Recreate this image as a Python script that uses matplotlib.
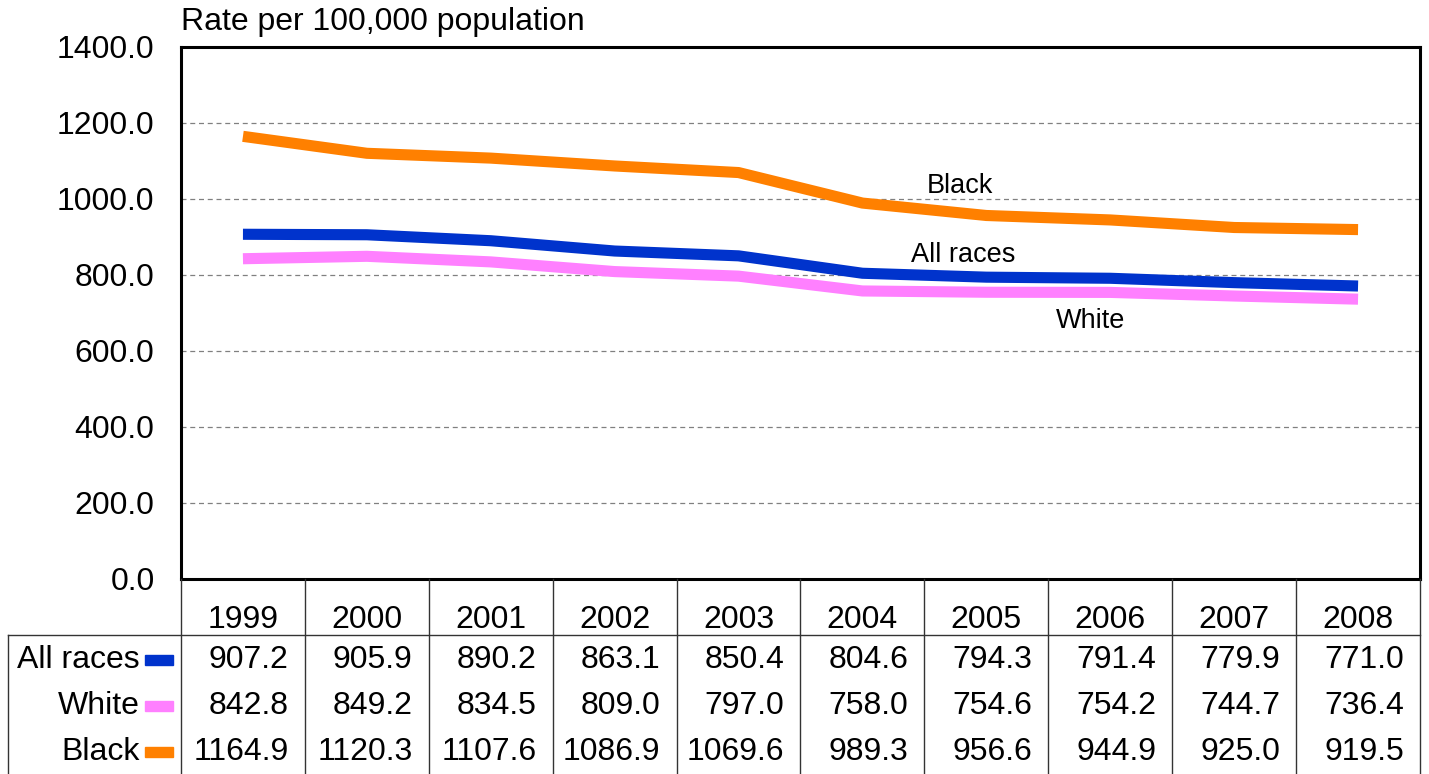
import matplotlib.pyplot as plt
import matplotlib.transforms as mtransforms
from matplotlib.lines import Line2D
from matplotlib.patches import Rectangle

plt.rcParams['font.family'] = ['Liberation Sans', 'DejaVu Sans']

# -----------------------
# Data
# -----------------------

years = ["1999", "2000", "2001", "2002", "2003", "2004", "2005", "2006", "2007", "2008"]
all_races = [907.2, 905.9, 890.2, 863.1, 850.4, 804.6, 794.3, 791.4, 779.9, 771.0]
white = [842.8, 849.2, 834.5, 809.0, 797.0, 758.0, 754.6, 754.2, 744.7, 736.4]
black = [1164.9, 1120.3, 1107.6, 1086.9, 1069.6, 989.3, 956.6, 944.9, 925.0, 919.5]

series_names = ["All races", "White", "Black"]
series_values = [all_races, white, black]
series_colors = ["#0033CC", "#FF80FF", "#FF8000"]

# -----------------------
# Figure
# -----------------------

W, H = 1429, 774
fs = 23
fig = plt.figure(figsize=(W / 100, H / 100), dpi=100)

ax = fig.add_axes([181 / W, 1 - 579 / H, (1420 - 181) / W, (579 - 47) / H])

x = list(range(len(years)))
for vals, col in zip(series_values, series_colors):
    ax.plot(x, vals, color=col, linewidth=8, solid_capstyle="butt", zorder=3)

ax.set_xlim(-0.5, len(years) - 0.5)
ax.set_ylim(0, 1400)
ax.set_yticks(range(0, 1401, 200))
ax.set_yticklabels([f"{v:.1f}" for v in range(0, 1401, 200)], fontsize=fs)
ax.set_xticks([])
ax.tick_params(axis="y", length=0, pad=19)
for s in ax.spines.values():
    s.set_linewidth(2.2)
for v in range(200, 1400, 200):
    ax.axhline(v, color="#808080", linestyle=(0, (4, 3)), linewidth=0.9, zorder=1)

fig.text(181 / W, 1 - 30 / H, "Rate per 100,000 population",
         fontsize=fs, ha="left", va="baseline")

# series labels inside plot
ax.text(5.79, 1016, "Black", fontsize=19.5, ha="center", va="baseline")
ax.text(5.81, 834, "All races", fontsize=19.5, ha="center", va="baseline")
ax.text(6.84, 660, "White", fontsize=19.5, ha="center", va="baseline")

# -----------------------
# Data table under the plot
# -----------------------

tr = mtransforms.blended_transform_factory(ax.transData, fig.transFigure)

def fy(py):
    return 1 - py / H

y_head_top = fy(579)
y_head_line = fy(635)
y_bottom = 0.0
row_y = [fy(660), fy(706), fy(752)]
edge = "#333333"

# vertical column lines
for i in range(len(years) + 1):
    fig.add_artist(Line2D([i - 0.5, i - 0.5], [y_head_top, y_bottom], transform=tr,
                          color=edge, linewidth=1.0))
# header line and left border
fig.add_artist(Line2D([8 / W, 1420 / W], [y_head_line, y_head_line],
                      transform=fig.transFigure, color=edge, linewidth=1.0))
fig.add_artist(Line2D([8 / W, 8 / W], [y_head_line, y_bottom],
                      transform=fig.transFigure, color=edge, linewidth=1.0))

for i, yr in enumerate(years):
    fig.text(i, fy(628), yr, transform=tr, fontsize=fs, ha="center", va="baseline")

for r, (name, vals, col) in enumerate(zip(series_names, series_values, series_colors)):
    yy = row_y[r]
    fig.text(140 / W, yy, name, fontsize=fs, ha="right", va="center")
    fig.add_artist(Rectangle((145 / W, yy - 5 / H), 28 / W, 10 / H,
                             transform=fig.transFigure, color=col))
    for i, v in enumerate(vals):
        fig.text(i + 0.37, yy, f"{v:.1f}", transform=tr, fontsize=fs,
                 ha="right", va="center")

fig.savefig("out.png", dpi=100)
